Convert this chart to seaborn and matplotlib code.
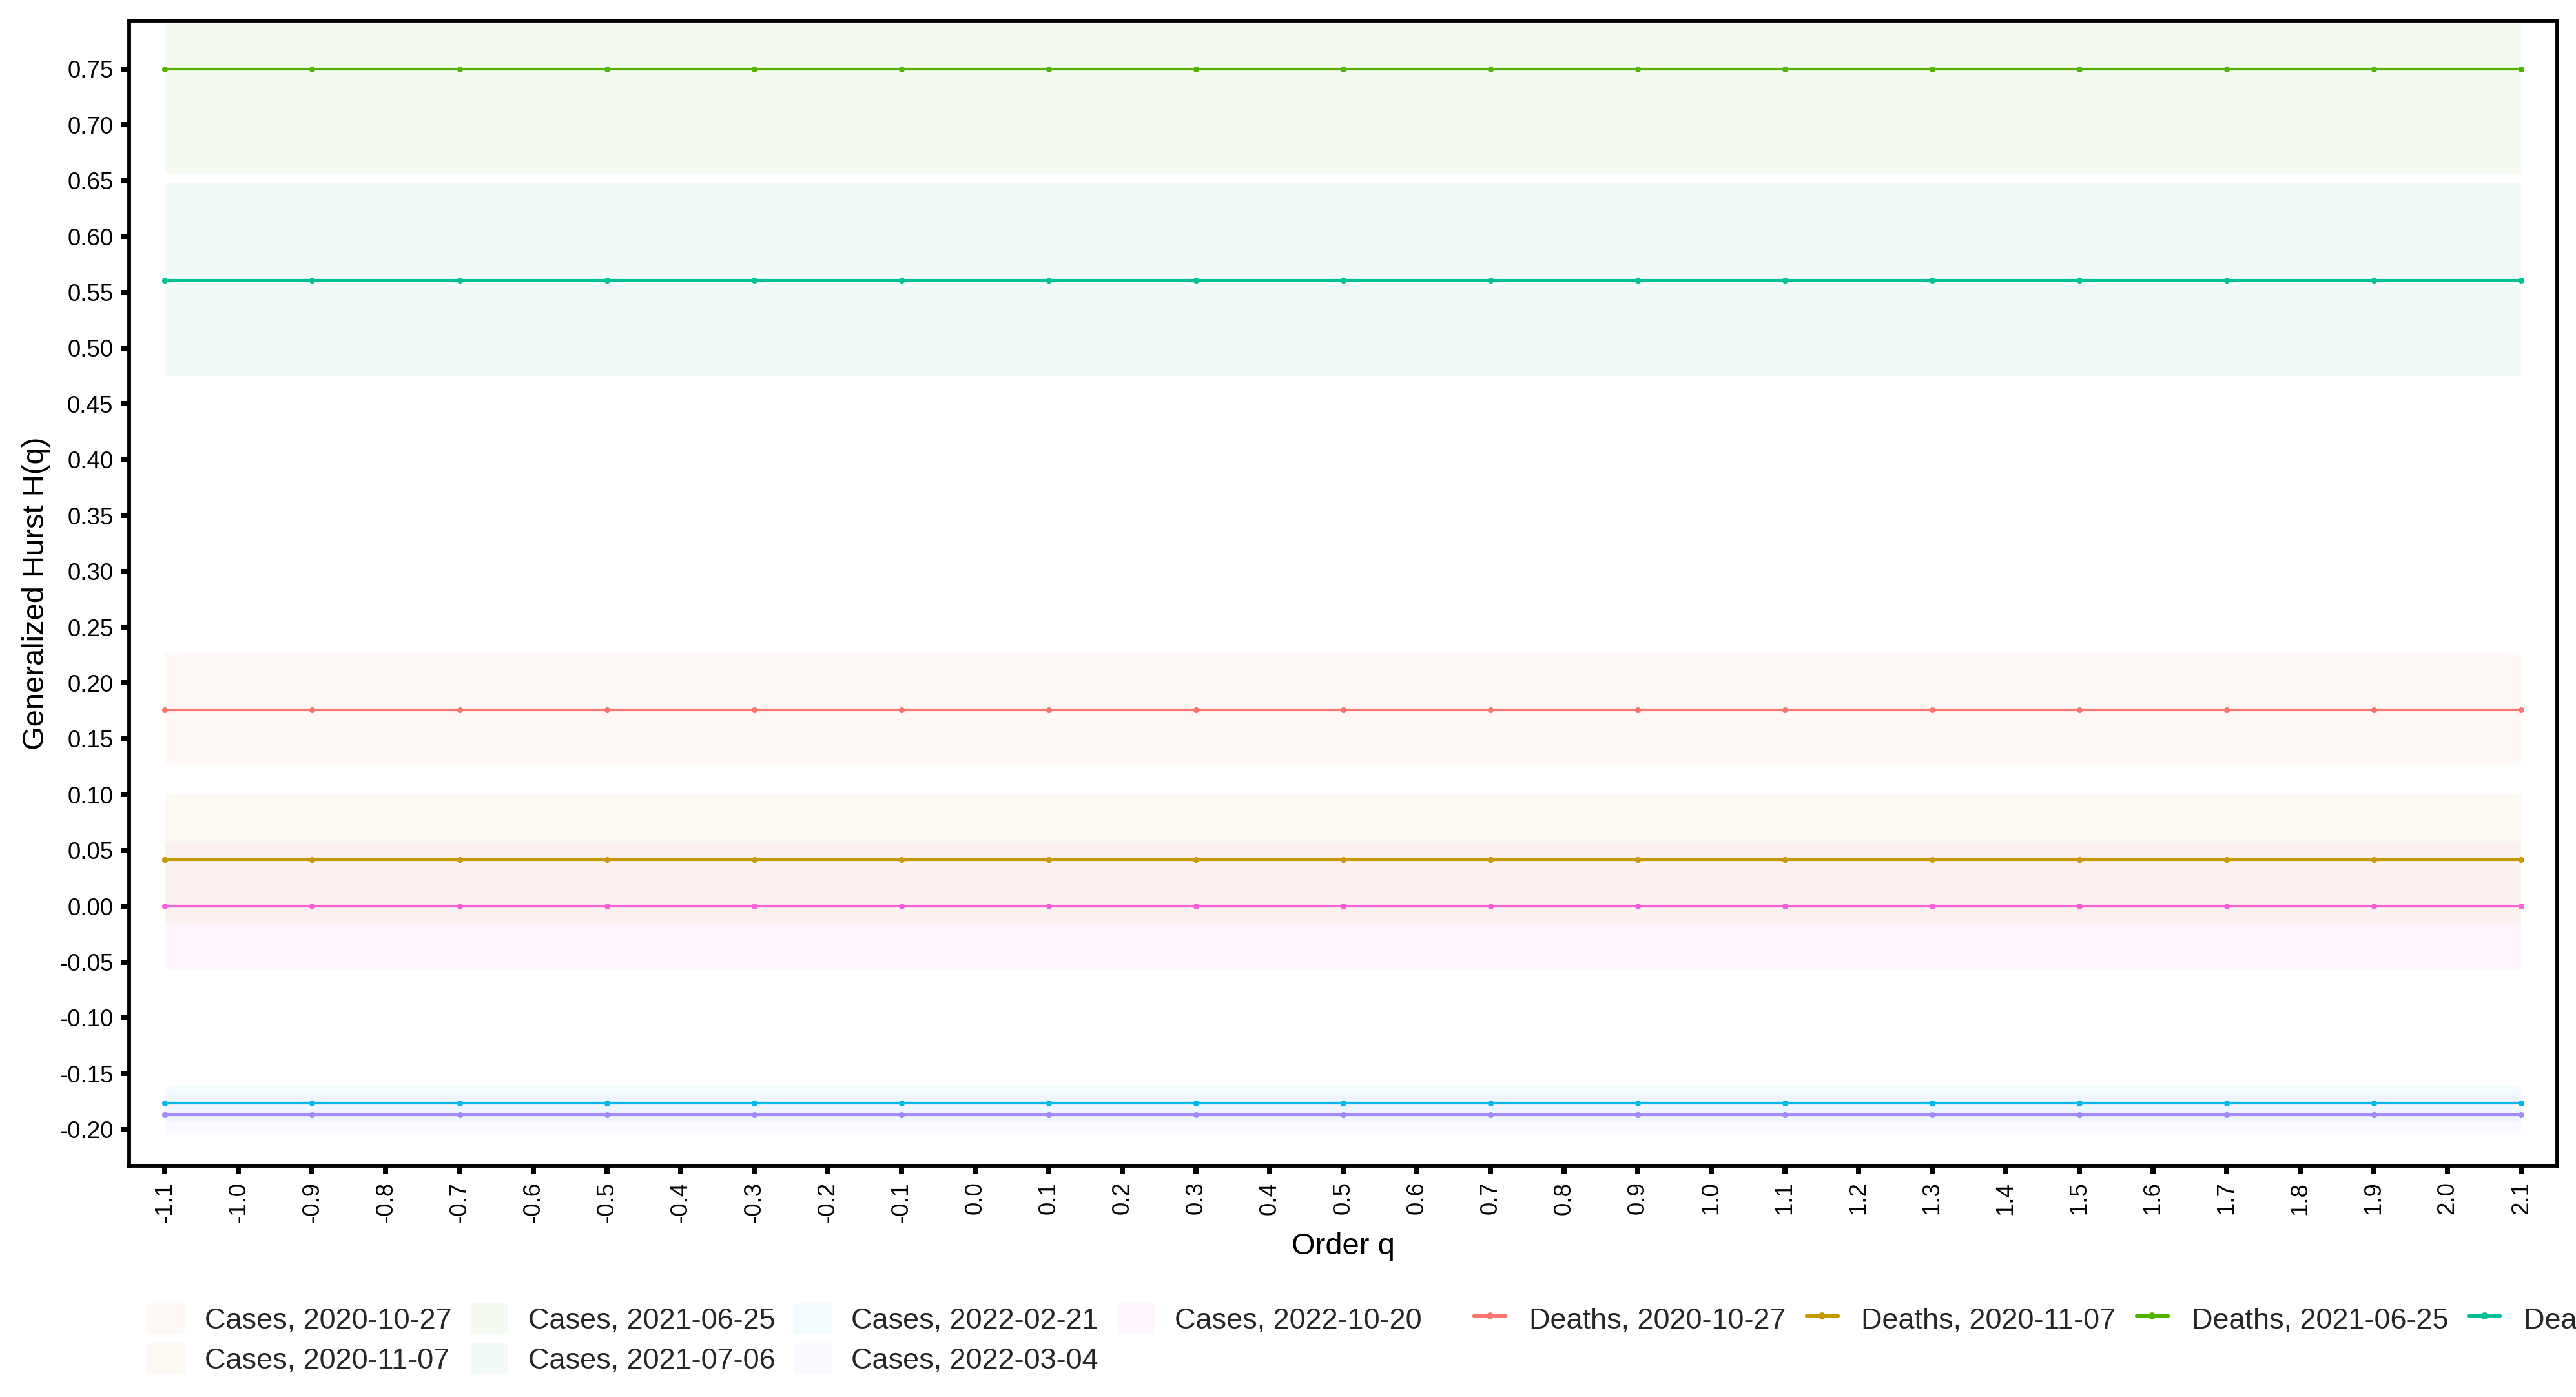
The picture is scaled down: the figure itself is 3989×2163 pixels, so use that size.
import numpy as np
import pandas as pd
import matplotlib
matplotlib.use("Agg")
import matplotlib.pyplot as plt
import seaborn as sns
from matplotlib.patches import Patch
from matplotlib.lines import Line2D

# ---------------- data ----------------
q_values = [-1.1, -0.9, -0.7, -0.5, -0.3, -0.1, 0.1, 0.3, 0.5, 0.7, 0.9,
            1.1, 1.3, 1.5, 1.7, 1.9, 2.1]
dates = ["2020-10-27", "2020-11-07", "2021-06-25", "2021-07-06",
         "2022-02-21", "2022-03-04", "2022-10-20"]
deaths_h = [0.176, 0.042, 0.750, 0.561, -0.1765, -0.187, 0.000]
cases_lower = [0.126, -0.015, 0.656, 0.475, -0.192, -0.205, -0.056]
cases_upper = [0.228, 0.100, 0.844, 0.648, -0.161, -0.169, 0.056]
palette = ["#F8766D", "#C49A00", "#53B400", "#00C094",
           "#00B6EB", "#A58AFF", "#FB61D7"]
y_ticks = [-0.20, -0.15, -0.10, -0.05, 0.00, 0.05, 0.10, 0.15, 0.20, 0.25,
           0.30, 0.35, 0.40, 0.45, 0.50, 0.55, 0.60, 0.65, 0.70, 0.75]
x_ticks = [-1.1, -1.0, -0.9, -0.8, -0.7, -0.6, -0.5, -0.4, -0.3, -0.2, -0.1,
           0.0, 0.1, 0.2, 0.3, 0.4, 0.5, 0.6, 0.7, 0.8, 0.9, 1.0, 1.1, 1.2,
           1.3, 1.4, 1.5, 1.6, 1.7, 1.8, 1.9, 2.0, 2.1]
x_label = "Order q"
y_label = "Generalized Hurst H(q)"

death_names = [f"Deaths, {d}" for d in dates]
case_names = [f"Cases, {d}" for d in dates]

deaths_rows = []
for name, h in zip(death_names, deaths_h):
    for qq in q_values:
        deaths_rows.append({"q": qq, "H": h, "series": name})
deaths_df = pd.DataFrame(deaths_rows)

cases_rows = []
for name, lo, hi in zip(case_names, cases_lower, cases_upper):
    for qq in q_values:
        cases_rows.append({"q": qq, "H": lo, "series": name})
        cases_rows.append({"q": qq, "H": hi, "series": name})
cases_df = pd.DataFrame(cases_rows)

# ---------------- style ----------------
sns.set_theme(style="white")
plt.rcParams["font.family"] = ["Liberation Sans", "DejaVu Sans"]
plt.rcParams["axes.unicode_minus"] = False

BAND_ALPHA = 0.052

W, H = 3989, 2163
DPI = 300
fig = plt.figure(figsize=(W / DPI, H / DPI), dpi=DPI)
ax = fig.add_axes([200 / W, 1 - 1805 / H, 3760 / W, (1805 - 31.7) / H])

# ribbons (Cases)
sns.lineplot(data=cases_df, x="q", y="H", hue="series", hue_order=case_names,
             palette=palette, errorbar=lambda v: (v.min(), v.max()),
             err_kws={"alpha": BAND_ALPHA, "linewidth": 0}, linewidth=0,
             legend=False, ax=ax)
# lines (Deaths)
sns.lineplot(data=deaths_df, x="q", y="H", hue="series", hue_order=death_names,
             palette=palette, errorbar=None, marker="o", markersize=2.2,
             markeredgewidth=0, linewidth=1.0, legend=False, ax=ax)

ax.set_xlim(-1.1486, 2.149)
ax.set_ylim(-0.2325, 0.7935)
ax.set_xticks(x_ticks)
ax.set_xticklabels([f"{round(v, 1) + 0.0:.1f}" for v in x_ticks], rotation=90)
ax.set_yticks(y_ticks)
ax.set_yticklabels([f"{round(v, 2) + 0.0:.2f}" for v in y_ticks])

for side, sp in ax.spines.items():
    sp.set_visible(True)
    sp.set_color("black")
    sp.set_linewidth(1.4)
ax.tick_params(axis="both", direction="out", length=2.9, width=1.9,
               color="black", labelsize=8.8, labelcolor="black", pad=3,
               bottom=True, left=True)

ax.set_xlabel(x_label, fontsize=11.3, color="black")
ax.set_ylabel(y_label, fontsize=11.3, color="black")
ax.xaxis.set_label_coords(0.5, -0.058)
ax.yaxis.set_label_coords(-0.0325, 0.5)
ax.grid(False)
ax.set_facecolor("white")

# ---------------- legends ----------------
case_handles = [Patch(facecolor=c, alpha=BAND_ALPHA, edgecolor="none") for c in palette]
leg1 = fig.legend(case_handles, case_names, loc="upper left",
                  bbox_to_anchor=(228 / W, 1 - 2017 / H), ncol=4, frameon=False,
                  fontsize=10.8, handlelength=1.31, handleheight=1.29,
                  handletextpad=0.67, columnspacing=0.64, labelspacing=0.30,
                  borderpad=0, borderaxespad=0)

death_handles = [Line2D([0], [0], color=c, linewidth=1.3, marker="o",
                        markersize=2.6, markeredgewidth=0) for c in palette]
leg2 = fig.legend(death_handles, death_names, loc="upper left",
                  bbox_to_anchor=(2282 / W, 1 - 2017 / H), ncol=7, frameon=False,
                  fontsize=10.8, handlelength=1.09, handleheight=1.29,
                  handletextpad=0.82, columnspacing=0.69, labelspacing=0.30,
                  borderpad=0, borderaxespad=0)

fig.savefig("out.png", dpi=DPI, facecolor="white")
